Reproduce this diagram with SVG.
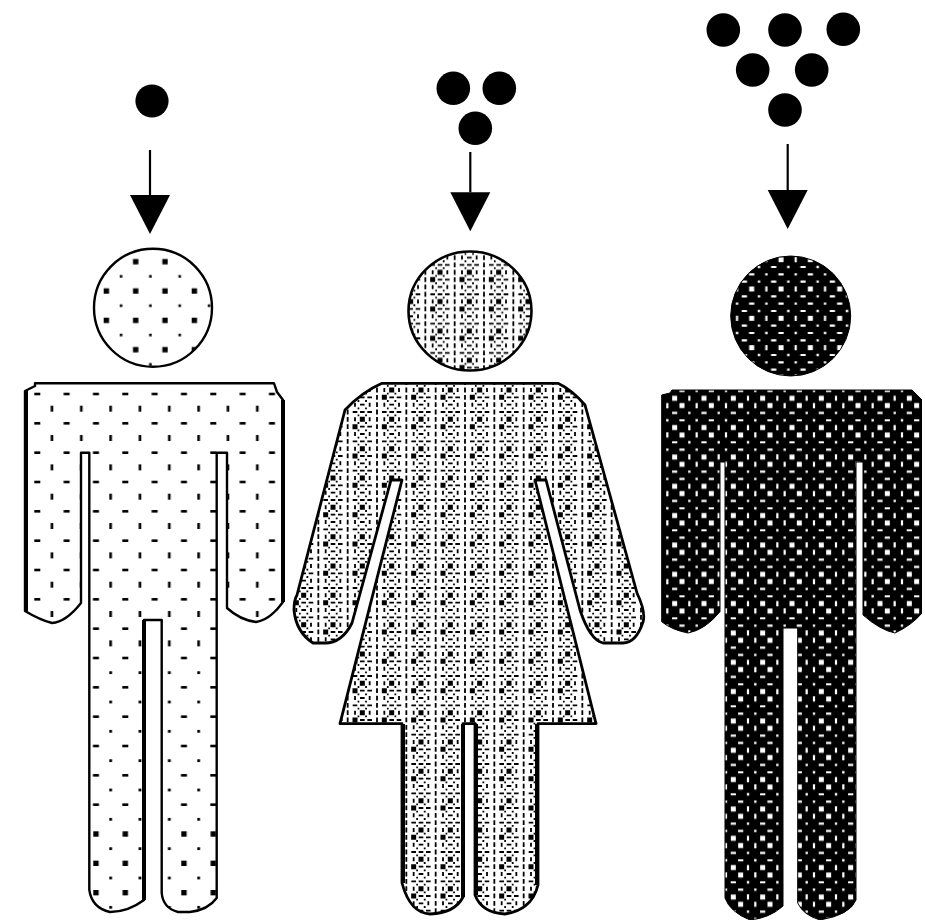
<svg xmlns="http://www.w3.org/2000/svg" width="925" height="923" viewBox="0 0 925 923">
<style>
.ol{fill:none;stroke:#000;stroke-width:2.4;stroke-linejoin:round}
.thick{fill:none;stroke:#000;stroke-width:4}
.k{fill:none;stroke:#000}
.w{fill:none;stroke:#fff}
.ball{fill:#000}
.arrow{stroke:#000;stroke-width:2.2;fill:none;marker-end:url(#tri)}
</style>
<defs>
<marker id="tri" markerUnits="userSpaceOnUse" markerWidth="40" markerHeight="40" refX="19" refY="0" orient="0" viewBox="0 0 38 38" overflow="visible"><path d="M0 0H38L19 37Z" fill="#000"/></marker>
<filter id="soft" x="0" y="0" width="100%" height="100%"><feGaussianBlur stdDeviation="0.45"/></filter>
<g id="mA"><path class="k" stroke-width="2.6" d="M0 3h6"/><path class="k" stroke-width="2.6" d="M17.67 14.7v6"/></g>
<g id="mB"><path class="k" stroke-width="2.6" d="M0 3h6"/><path class="k" stroke-width="2.8" d="M16.3 17.67h2.8"/></g>
<g id="mC"><path class="k" stroke-width="5.4" d="M.3 3h5.4"/><path class="k" stroke-width="2.8" d="M16.3 17.67h2.8"/></g>
<g id="mH"><path class="k" stroke-width="5.4" d="M.3 3h5.4"/><path class="k" stroke-width="2.6" d="M16.4 17.67h2.6"/></g>
<g id="mM">
<path class="k" stroke-width="5" d="M.5 3h5M22.5 10.33h5"/>
<path class="k" stroke-width="1.8" d="M.7 10.33h4.6M.7 17.67h4.6M.7 25h4.6M8 10.33h4.6M8 25h4.6M22.7 25h4.6"/>
<path class="k" stroke-width="1.8" d="M10.33 1v4M10.33 15.67v4M17.67 .6v4.8M17.67 7.9v4.8M17.67 15.3v4.8M17.67 22.6v4.8M25 1v4M25 15.67v4"/>
<path class="k" stroke-width="1.8" d="M5.8 6.67h1.8M27.6 6.67h1.7M5.8 14h1.8M27.6 14h1.7M5.8 21.33h1.8M27.6 21.33h1.7M5.8 28.3h1.8M27.6 28.3h1.7"/>
</g>
<g id="mD">
<path class="w" stroke-width="5" d="M1.5 4h5M8.83 11.33h5"/>
<path class="w" stroke-width="2.2" d="M18.67 1.4v5.2M26 8.73v5.2"/>
<path class="w" stroke-width="2.2" d="M1.4 18.67h5.2M8.73 26h5.2"/>
<path class="w" stroke-width="2.4" d="M17.5 18.67h2.4M24.8 26h2.4"/>
</g>
<g id="mE">
<path class="w" stroke-width="5" d="M1.5 4h5"/>
<path class="w" stroke-width="2.2" d="M18.67 1.4v5.2"/>
<path class="w" stroke-width="2.2" d="M23.4 11.33h5.2M1.4 18.67h5.2M23.4 26h5.2"/>
<path class="w" stroke-width="2.4" d="M10.1 11.33h2.4M17.5 18.67h2.4M10.1 26h2.4"/>
</g>
<pattern id="lightA" patternUnits="userSpaceOnUse" x="34.3" y="391" width="88" height="88">
<use href="#mA"/><use href="#mA" x="29.33"/><use href="#mA" x="58.67"/><use href="#mA" y="29.33"/><use href="#mA" x="29.33" y="29.33"/><use href="#mA" x="58.67" y="29.33"/><use href="#mA" y="58.67"/><use href="#mA" x="29.33" y="58.67"/><use href="#mA" x="58.67" y="58.67"/></pattern>
<pattern id="lightB" patternUnits="userSpaceOnUse" x="34.3" y="391" width="88" height="88">
<use href="#mB"/><use href="#mB" x="29.33"/><use href="#mB" x="58.67"/><use href="#mB" y="29.33"/><use href="#mB" x="29.33" y="29.33"/><use href="#mB" x="58.67" y="29.33"/><use href="#mB" y="58.67"/><use href="#mB" x="29.33" y="58.67"/><use href="#mB" x="58.67" y="58.67"/></pattern>
<pattern id="lightC" patternUnits="userSpaceOnUse" x="34.3" y="391" width="88" height="88">
<use href="#mC"/><use href="#mC" x="29.33"/><use href="#mC" x="58.67"/><use href="#mC" y="29.33"/><use href="#mC" x="29.33" y="29.33"/><use href="#mC" x="58.67" y="29.33"/><use href="#mC" y="58.67"/><use href="#mC" x="29.33" y="58.67"/><use href="#mC" x="58.67" y="58.67"/></pattern>
<pattern id="lightH" patternUnits="userSpaceOnUse" x="132.7" y="258.7" width="88" height="88">
<use href="#mH"/><use href="#mH" x="29.33"/><use href="#mH" x="58.67"/><use href="#mH" y="29.33"/><use href="#mH" x="29.33" y="29.33"/><use href="#mH" x="58.67" y="29.33"/><use href="#mH" y="58.67"/><use href="#mH" x="29.33" y="58.67"/><use href="#mH" x="58.67" y="58.67"/></pattern>
<pattern id="med" patternUnits="userSpaceOnUse" x="418" y="387" width="88" height="88">
<use href="#mM"/><use href="#mM" x="29.33"/><use href="#mM" x="58.67"/><use href="#mM" y="29.33"/><use href="#mM" x="29.33" y="29.33"/><use href="#mM" x="58.67" y="29.33"/><use href="#mM" y="58.67"/><use href="#mM" x="29.33" y="58.67"/><use href="#mM" x="58.67" y="58.67"/></pattern>
<pattern id="medH" href="#med" patternUnits="userSpaceOnUse" x="437" y="269.3" width="88" height="88"/>
<pattern id="dark" patternUnits="userSpaceOnUse" x="700" y="394.3" width="88" height="88">
<rect width="88" height="88" fill="#000"/>
<use href="#mD"/><use href="#mD" x="29.33"/><use href="#mD" x="58.67"/><use href="#mD" y="29.33"/><use href="#mD" x="29.33" y="29.33"/><use href="#mD" x="58.67" y="29.33"/><use href="#mD" y="58.67"/><use href="#mD" x="29.33" y="58.67"/><use href="#mD" x="58.67" y="58.67"/></pattern>
<pattern id="darkH" patternUnits="userSpaceOnUse" x="747.7" y="285" width="88" height="88">
<rect width="88" height="88" fill="#000"/>
<use href="#mE"/><use href="#mE" x="29.33"/><use href="#mE" x="58.67"/><use href="#mE" y="29.33"/><use href="#mE" x="29.33" y="29.33"/><use href="#mE" x="58.67" y="29.33"/><use href="#mE" y="58.67"/><use href="#mE" x="29.33" y="58.67"/><use href="#mE" x="58.67" y="58.67"/></pattern>
<path id="manA" d="M35 383.3H274L277 392 283 400V602Q270 620 256 622 240 620 227 608V452.7H216.7V898Q208 910 190 912H178Q163 908 161.7 893V620H144V900Q128 912 110 912 92 908 89.3 890V452.7H81V603Q66 622 52 623 40 620 25 611V391L35 386Z"/>
<path id="womanA" d="M382 383.3H558Q572 390 585 405L637 593Q646 612 643 622 636 643 623 643H603Q590 640 580 610L546 480H535L596 723.7H538V885Q532 910 505 914 482 913 475 895V723.7H463V897Q455 913 430 914 410 913 402 883V723.7H340L402 480H391L352 623Q342 643 325 643H313Q296 632 294 610 294 600 297 595L345 410Q362 392 382 383.3Z"/>
<path id="manB" d="M672 390H912L922 400V613Q912 625 895 633 880 630 863 615V462H856V900Q850 915 820 920 803 915 797.7 903V628H783V906Q770 918 750 920 730 912 725 898V462H720V611.7Q705 630 688 633 672 630 661.7 621.7V395L670 393Z"/>
<clipPath id="clipA"><use href="#manA"/></clipPath>
</defs>
<rect width="925" height="923" fill="#fff"/>
<g filter="url(#soft)">
<g id="connectors">
<line class="arrow" x1="150" y1="150" x2="150" y2="195"/>
<line class="arrow" x1="470.3" y1="152" x2="470.3" y2="192.3"/>
<line class="arrow" x1="787.7" y1="144" x2="787.7" y2="190"/>
</g>
<g id="balls-1"><circle class="ball" cx="152" cy="101" r="16.6"/></g>
<g id="balls-2"><circle class="ball" cx="453.3" cy="88.3" r="16.8"/><circle class="ball" cx="499.3" cy="88.3" r="16.8"/><circle class="ball" cx="475.3" cy="128.3" r="16.8"/></g>
<g id="balls-3"><circle class="ball" cx="723.3" cy="30" r="16.8"/><circle class="ball" cx="785" cy="30" r="16.8"/><circle class="ball" cx="843.3" cy="29.3" r="16.8"/><circle class="ball" cx="752.7" cy="70" r="16.8"/><circle class="ball" cx="811.7" cy="70" r="16.8"/><circle class="ball" cx="785" cy="110" r="16.8"/></g>
<g id="person-light">
<circle cx="153" cy="307.8" r="59" fill="url(#lightH)" stroke="#000" stroke-width="2.4"/>
<g clip-path="url(#clipA)">
<rect x="20" y="380" width="270" height="270" fill="url(#lightA)"/>
<rect x="20" y="650" width="270" height="170" fill="url(#lightB)"/>
<rect x="20" y="820" width="270" height="100" fill="url(#lightC)"/>
</g>
<use href="#manA" class="ol"/>
<path class="thick" d="M26 391V611M283 400V602M144 620V900"/>
</g>
<g id="person-medium">
<ellipse cx="470" cy="311" rx="61.5" ry="59.5" fill="url(#medH)" stroke="#000" stroke-width="2.6"/>
<use href="#womanA" fill="url(#med)" stroke="#000" stroke-width="2.8" stroke-linejoin="round"/>
<path class="thick" d="M403 724V883M463 724V897M476 724V895M537 724V885"/>
</g>
<g id="person-dark">
<circle cx="790.7" cy="316" r="60" fill="url(#darkH)" stroke="#000" stroke-width="1"/>
<use href="#manB" fill="url(#dark)" stroke="#000" stroke-width="1"/>
</g>
</g>
</svg>
